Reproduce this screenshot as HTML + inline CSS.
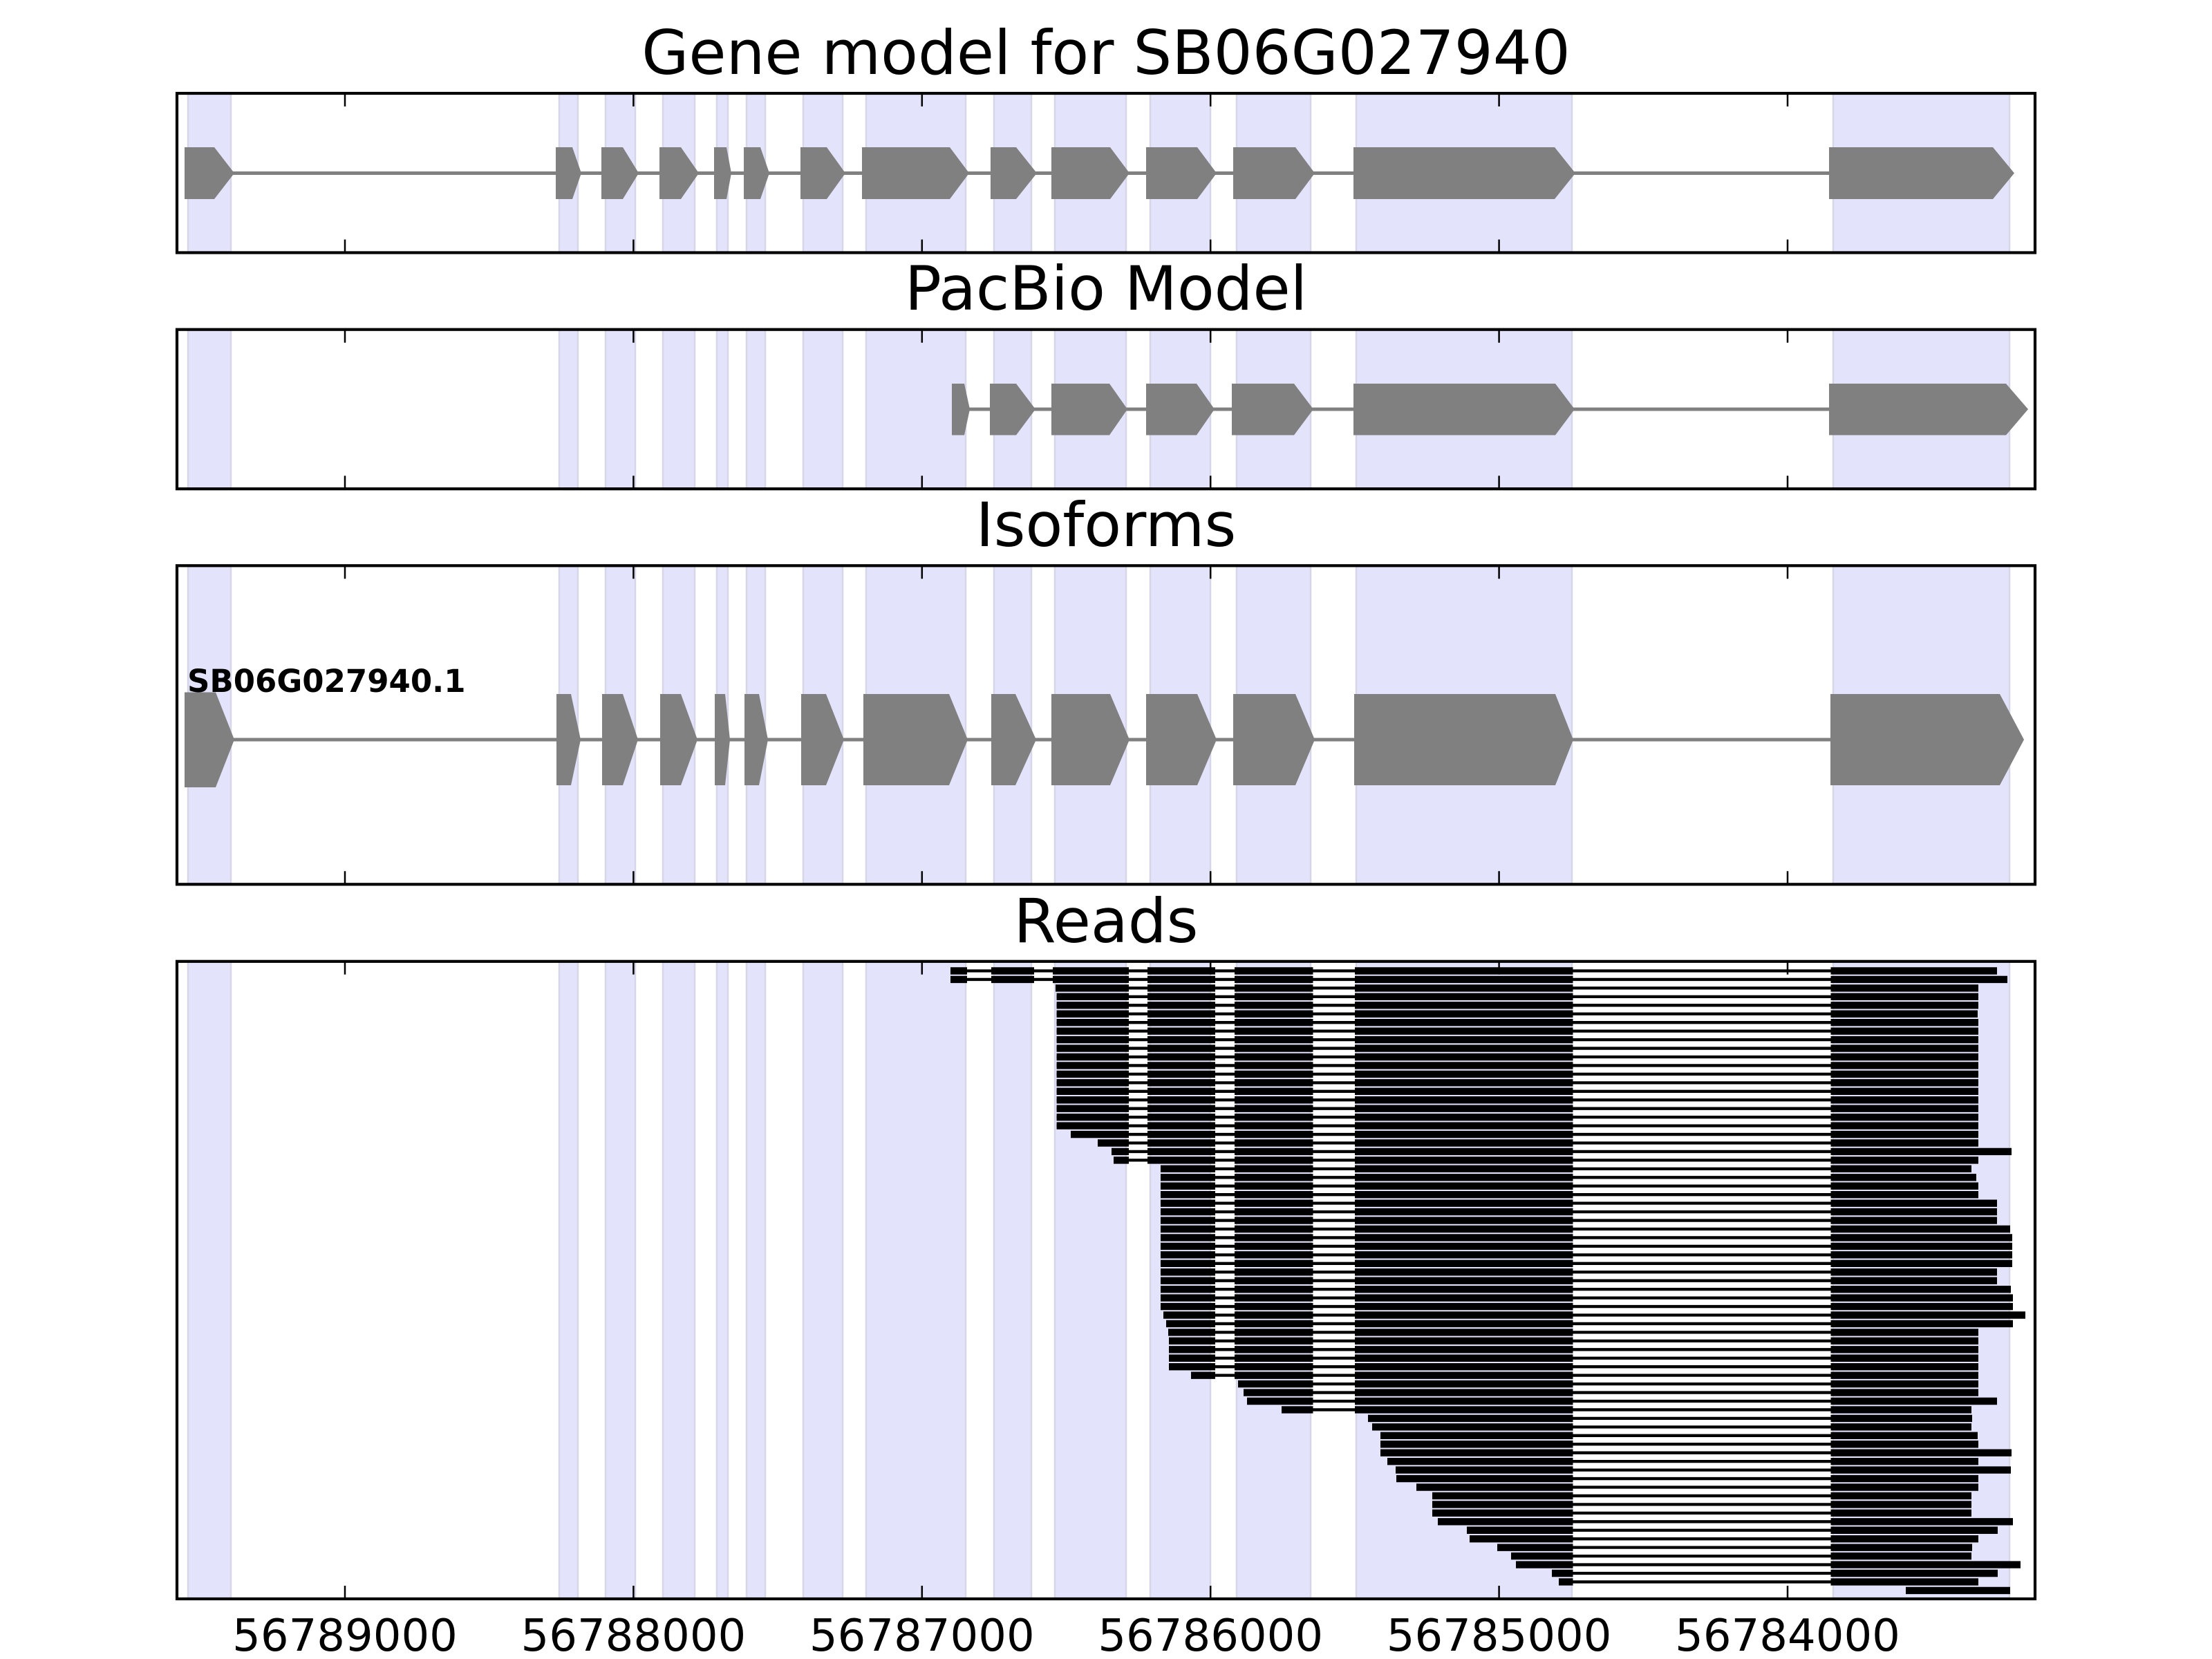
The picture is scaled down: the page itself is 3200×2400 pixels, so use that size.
<!DOCTYPE html>
<html>
<head>
<meta charset="utf-8">
<style>
html,body{margin:0;padding:0;background:#fff;}
svg{display:block;}
text{font-family:"DejaVu Sans","Liberation Sans",sans-serif;fill:#000;}
</style>
</head>
<body>
<svg width="3200" height="2400" viewBox="0 0 3200 2400" xmlns="http://www.w3.org/2000/svg">
<defs>
  <g id="bands" fill="#e3e3fb" stroke="#d6d6e8" stroke-width="2.5">
    <rect x="272" y="0" width="62" height="2400"/>
    <rect x="809" y="0" width="27" height="2400"/>
    <rect x="876" y="0" width="43" height="2400"/>
    <rect x="959" y="0" width="46" height="2400"/>
    <rect x="1037" y="0" width="16" height="2400"/>
    <rect x="1080" y="0" width="27" height="2400"/>
    <rect x="1162" y="0" width="57" height="2400"/>
    <rect x="1253" y="0" width="144" height="2400"/>
    <rect x="1438" y="0" width="54" height="2400"/>
    <rect x="1526" y="0" width="103" height="2400"/>
    <rect x="1664" y="0" width="87" height="2400"/>
    <rect x="1789" y="0" width="107" height="2400"/>
    <rect x="1962" y="0" width="312" height="2400"/>
    <rect x="2652" y="0" width="255" height="2400"/>
  </g>
  <clipPath id="c1"><rect x="256" y="135" width="2688" height="230.5"/></clipPath>
  <clipPath id="c2"><rect x="256" y="476.7" width="2688" height="230.5"/></clipPath>
  <clipPath id="c3"><rect x="256" y="818.3" width="2688" height="461"/></clipPath>
  <clipPath id="c4"><rect x="256" y="1390.8" width="2688" height="922.2"/></clipPath>
  <clipPath id="exR">
    <rect x="1375" y="1390" width="24" height="925"/>
    <rect x="1434" y="1390" width="62" height="925"/>
    <rect x="1523" y="1390" width="110" height="925"/>
    <rect x="1660" y="1390" width="98" height="925"/>
    <rect x="1786" y="1390" width="113.5" height="925"/>
    <rect x="1960" y="1390" width="315.5" height="925"/>
    <rect x="2648.5" y="1390" width="300" height="925"/>
  </clipPath>
  <path id="rd" fill="none" d="M1375 1404.5H2889 M1375 1416.95H2904 M1527 1429.4H2862 M1528.6 1441.85H2862 M1528.6 1454.3H2862 M1528.6 1466.75H2861 M1528.6 1479.2H2862 M1528.6 1491.65H2862 M1528.6 1504.1H2862 M1528.6 1516.55H2862 M1528.6 1529H2862 M1528.6 1541.45H2862 M1528.6 1553.9H2862 M1528.6 1566.35H2862 M1528.6 1578.8H2862 M1528.6 1591.25H2862 M1528.6 1603.7H2862 M1528.6 1616.15H2862 M1528.6 1628.6H2862 M1549 1641.05H2862 M1588 1653.5H2862 M1608 1665.95H2910 M1611 1678.4H2862 M1679 1690.85H2852 M1679 1703.3H2859 M1679 1715.75H2862 M1679 1728.2H2862 M1679 1740.65H2889 M1679 1753.1H2889 M1679 1765.55H2889 M1679 1778H2908 M1679 1790.45H2911 M1679 1802.9H2911 M1679 1815.35H2911 M1679 1827.8H2911 M1679 1840.25H2889 M1679 1852.7H2889 M1679 1865.15H2909 M1679 1877.6H2912 M1679 1890.05H2912 M1683 1902.5H2930 M1687 1914.95H2912 M1690 1927.4H2862 M1691 1939.85H2862 M1691 1952.3H2862 M1691 1964.75H2862 M1691 1977.2H2862 M1723 1989.65H2862 M1791 2002.1H2862 M1799 2014.55H2862 M1804 2027H2889 M1854 2039.45H2852 M1979 2051.9H2853 M1985 2064.35H2852 M1997 2076.8H2861 M1997 2089.25H2862 M1997 2101.7H2910 M2007 2114.15H2862 M2019 2126.6H2909 M2020 2139.05H2862 M2049 2151.5H2862 M2072 2163.95H2852 M2072 2176.4H2852 M2072 2188.85H2852 M2080 2201.3H2912 M2122 2213.75H2890 M2126 2226.2H2862 M2166 2238.65H2853 M2186 2251.1H2852 M2193 2263.55H2923 M2245 2276H2890 M2255 2288.45H2862 M2757 2300.9H2908"/>
</defs>

<text x="1600" y="107" font-size="88" text-anchor="middle">Gene model for SB06G027940</text>
<text x="1600" y="448" font-size="88" text-anchor="middle">PacBio Model</text>
<text x="1600" y="790" font-size="88" text-anchor="middle">Isoforms</text>
<text x="1600" y="1363" font-size="88" text-anchor="middle">Reads</text>

<use href="#bands" clip-path="url(#c1)"/>
<use href="#bands" clip-path="url(#c2)"/>
<use href="#bands" clip-path="url(#c3)"/>
<use href="#bands" clip-path="url(#c4)"/>

<g fill="#808080">
  <rect x="320" y="248" width="2360" height="5"/>
  <polygon points="267,213 310,213 339,250.5 310,288 267,288"/>
  <polygon points="804,213 828,213 841,250.5 828,288 804,288"/>
  <polygon points="870,213 901,213 924,250.5 901,288 870,288"/>
  <polygon points="954,213 985,213 1011,250.5 985,288 954,288"/>
  <polygon points="1033,213 1051,213 1058,250.5 1051,288 1033,288"/>
  <polygon points="1076,213 1100,213 1113,250.5 1100,288 1076,288"/>
  <polygon points="1158,213 1196,213 1223,250.5 1196,288 1158,288"/>
  <polygon points="1247,213 1374,213 1402,250.5 1374,288 1247,288"/>
  <polygon points="1433,213 1470,213 1500,250.5 1470,288 1433,288"/>
  <polygon points="1521,213 1606,213 1634,250.5 1606,288 1521,288"/>
  <polygon points="1658,213 1732,213 1760,250.5 1732,288 1658,288"/>
  <polygon points="1784,213 1874,213 1902,250.5 1874,288 1784,288"/>
  <polygon points="1958,213 2249,213 2279,250.5 2249,288 1958,288"/>
  <polygon points="2646,213 2883,213 2914,250.5 2883,288 2646,288"/>
</g>

<g fill="#808080">
  <rect x="1395" y="589.5" width="1300" height="5"/>
  <polygon points="1377,555 1395,555 1403,592 1395,629.5 1377,629.5"/>
  <polygon points="1432,555 1470,555 1498,592 1470,629.5 1432,629.5"/>
  <polygon points="1521,555 1605,555 1631,592 1605,629.5 1521,629.5"/>
  <polygon points="1658,555 1731,555 1757,592 1731,629.5 1658,629.5"/>
  <polygon points="1782,555 1872,555 1900,592 1872,629.5 1782,629.5"/>
  <polygon points="1958,555 2250,555 2278,592 2250,629.5 1958,629.5"/>
  <polygon points="2646,555 2902,555 2934,592 2902,629.5 2646,629.5"/>
</g>

<g fill="#808080">
  <rect x="320" y="1067.5" width="2360" height="5"/>
  <polygon points="267,1001.5 312,1001.5 339,1070 312,1139 267,1139"/>
  <polygon points="805,1004 826,1004 840,1070 826,1136 805,1136"/>
  <polygon points="871,1004 901,1004 923,1070 901,1136 871,1136"/>
  <polygon points="955,1004 985,1004 1009,1070 985,1136 955,1136"/>
  <polygon points="1034,1004 1049,1004 1056,1070 1049,1136 1034,1136"/>
  <polygon points="1077,1004 1098,1004 1111,1070 1098,1136 1077,1136"/>
  <polygon points="1159,1004 1195,1004 1221,1070 1195,1136 1159,1136"/>
  <polygon points="1249,1004 1373,1004 1400,1070 1373,1136 1249,1136"/>
  <polygon points="1434,1004 1469,1004 1499,1070 1469,1136 1434,1136"/>
  <polygon points="1521,1004 1606,1004 1634,1070 1606,1136 1521,1136"/>
  <polygon points="1658,1004 1732,1004 1760,1070 1732,1136 1658,1136"/>
  <polygon points="1784,1004 1874,1004 1902,1070 1874,1136 1784,1136"/>
  <polygon points="1959,1004 2250,1004 2276,1070 2250,1136 1959,1136"/>
  <polygon points="2648,1004 2893,1004 2928,1070 2893,1136 2648,1136"/>
</g>
<text x="271" y="1001" font-size="45" font-weight="bold">SB06G027940.1</text>

<use href="#rd" stroke="#000" stroke-width="4.3"/>
<use href="#rd" stroke="#000" stroke-width="10.4" clip-path="url(#exR)"/>

<g stroke="#000" stroke-width="2.5" fill="none">
  <path d="M499 135v19M916.4 135v19M1333.8 135v19M1751.2 135v19M2168.6 135v19M2586 135v19M499 365.5v-19M916.4 365.5v-19M1333.8 365.5v-19M1751.2 365.5v-19M2168.6 365.5v-19M2586 365.5v-19"/>
  <path d="M499 476.7v19M916.4 476.7v19M1333.8 476.7v19M1751.2 476.7v19M2168.6 476.7v19M2586 476.7v19M499 707.2v-19M916.4 707.2v-19M1333.8 707.2v-19M1751.2 707.2v-19M2168.6 707.2v-19M2586 707.2v-19"/>
  <path d="M499 818.3v19M916.4 818.3v19M1333.8 818.3v19M1751.2 818.3v19M2168.6 818.3v19M2586 818.3v19M499 1279.3v-19M916.4 1279.3v-19M1333.8 1279.3v-19M1751.2 1279.3v-19M2168.6 1279.3v-19M2586 1279.3v-19"/>
  <path d="M499 1390.8v19M916.4 1390.8v19M1333.8 1390.8v19M1751.2 1390.8v19M2168.6 1390.8v19M2586 1390.8v19M499 2313v-19M916.4 2313v-19M1333.8 2313v-19M1751.2 2313v-19M2168.6 2313v-19M2586 2313v-19"/>
</g>

<g stroke="#000" stroke-width="4.2" fill="none">
  <rect x="256" y="135" width="2688" height="230.5"/>
  <rect x="256" y="476.7" width="2688" height="230.5"/>
  <rect x="256" y="818.3" width="2688" height="461"/>
  <rect x="256" y="1390.8" width="2688" height="922.2"/>
</g>

<g font-size="64" text-anchor="middle">
  <text x="499" y="2388">56789000</text>
  <text x="916.4" y="2388">56788000</text>
  <text x="1333.8" y="2388">56787000</text>
  <text x="1751.2" y="2388">56786000</text>
  <text x="2168.6" y="2388">56785000</text>
  <text x="2586" y="2388">56784000</text>
</g>
</svg>
</body>
</html>
